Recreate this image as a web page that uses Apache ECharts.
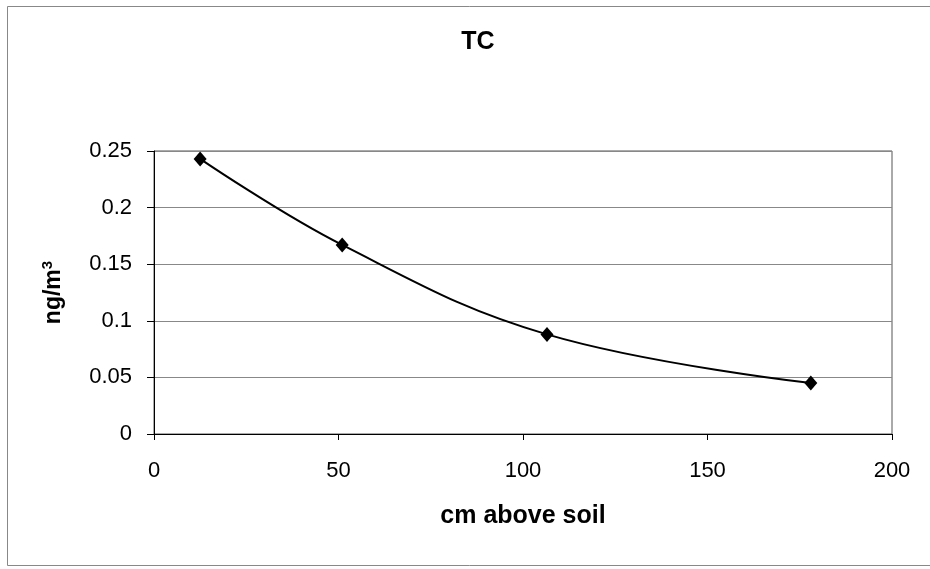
<!DOCTYPE html>
<html>
<head>
<meta charset="utf-8">
<script src="https://cdn.jsdelivr.net/npm/echarts@6/dist/echarts.min.js"></script>
<style>
html,body{margin:0;padding:0;background:#fff;}
#main{width:930px;height:569px;}
</style>
</head>
<body>
<div id="main"></div>
<script>
const heights = [12.5, 51, 106.5, 178];
const tcValues = [0.243, 0.167, 0.088, 0.045];
const xTicks = [0, 50, 100, 150, 200];
const yTicks = [0, 0.05, 0.1, 0.15, 0.2, 0.25];

const chart = echarts.init(document.getElementById('main'));
const font = 'Liberation Sans, Arial, sans-serif';
chart.setOption({
  backgroundColor: '#fff',
  animation: false,
  graphic: [{
    type: 'rect',
    shape: {x: 7.5, y: 6.5, width: 930, height: 559},
    style: {fill: 'none', stroke: '#888', lineWidth: 1}
  }],
  title: {
    text: 'TC',
    left: 473, top: 25, textAlign: 'center',
    textStyle: {fontFamily: font, fontWeight: 'bold', fontSize: 25, color: '#000'}
  },
  grid: {left: 154, right: 38, top: 151, bottom: 135, show: true, borderColor: '#555', borderWidth: 1, backgroundColor: '#fff'},
  xAxis: {
    type: 'value', min: 0, max: 200, interval: 50,
    name: 'cm above soil', nameLocation: 'middle', nameGap: 70,
    nameTextStyle: {fontFamily: font, fontWeight: 'bold', fontSize: 25, color: '#000'},
    axisLine: {show: true, onZero: false, lineStyle: {color: '#000', width: 1}},
    axisTick: {show: true, length: 6, inside: false, lineStyle: {color: '#000'}},
    axisLabel: {fontFamily: font, fontSize: 22, color: '#000', margin: 26, formatter: v => xTicks.includes(v) ? String(v) : ''},
    splitLine: {show: false}
  },
  yAxis: {
    type: 'value', min: 0, max: 0.25, interval: 0.05,
    name: 'ng/m{sup|3}', nameLocation: 'middle', nameGap: 87,
    nameTextStyle: {fontFamily: font, fontWeight: 'bold', fontSize: 23, color: '#000',
      rich: {sup: {fontFamily: font, fontWeight: 'bold', fontSize: 15, color: '#000', verticalAlign: 'top', padding: [0, 0, 12, 0]}}},
    axisLine: {show: true, lineStyle: {color: '#000', width: 1}},
    axisTick: {show: true, length: 7, inside: false, lineStyle: {color: '#000'}},
    axisLabel: {fontFamily: font, fontSize: 22, color: '#000', margin: 22, formatter: v => {
      const t = yTicks.find(k => Math.abs(k - v) < 1e-9);
      return t === undefined ? '' : String(t);
    }},
    splitLine: {show: true, lineStyle: {color: '#888', width: 1}}
  },
  series: [{
    type: 'line',
    data: heights.map((h, i) => [h, tcValues[i]]),
    smooth: 0.4,
    symbol: 'diamond',
    symbolSize: [13, 15],
    itemStyle: {color: '#000'},
    lineStyle: {color: '#000', width: 2}
  }]
});
</script>
</body>
</html>
